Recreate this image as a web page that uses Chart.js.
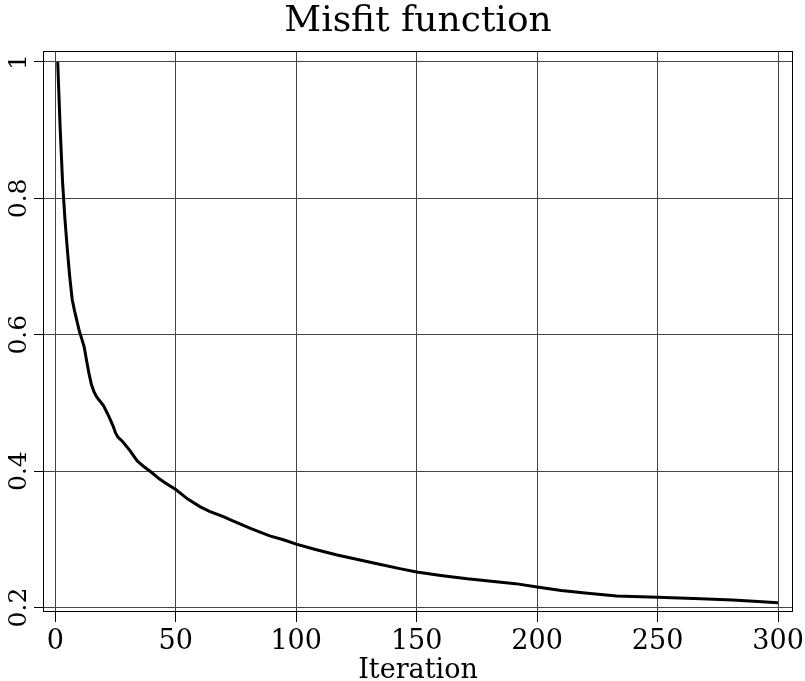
<!DOCTYPE html>
<html>
<head>
<meta charset="utf-8">
<script src="https://cdn.jsdelivr.net/npm/chart.js@4/dist/chart.umd.min.js"></script>
<style>
  html, body { margin: 0; padding: 0; background: #fff; }
  canvas { display: block; }
</style>
</head>
<body>
<canvas id="misfit" width="805" height="681"></canvas>
<script>
/* misfit per iteration */
const iterations = [1, 2, 3, 4, 5, 6, 7, 8, 9, 10, 11, 12, 13, 14, 15, 16, 17, 18, 20, 22,
  23, 24, 25, 26, 28, 31, 34, 37, 40, 43, 46, 50, 55, 60, 64, 70, 73, 81, 89, 95,
  100, 108, 117, 126, 135, 143, 150, 160, 171, 182, 191, 200, 210, 221, 233, 250, 268, 281, 290, 300];
const misfit = [1.000, 0.905, 0.825, 0.770, 0.725, 0.685, 0.652, 0.635, 0.620, 0.605, 0.594, 0.582, 0.562, 0.543, 0.527, 0.517, 0.510, 0.505, 0.496, 0.482,
  0.474, 0.466, 0.456, 0.450, 0.443, 0.430, 0.415, 0.406, 0.398, 0.389, 0.382, 0.373, 0.359, 0.348, 0.341, 0.333, 0.328, 0.316, 0.305, 0.299,
  0.293, 0.285, 0.277, 0.270, 0.263, 0.257, 0.252, 0.247, 0.242, 0.238, 0.235, 0.230, 0.225, 0.221, 0.217, 0.215, 0.213, 0.211, 0.209, 0.207];

const xTicks = [0, 50, 100, 150, 200, 250, 300];
const yTicks = [0.2, 0.4, 0.6, 0.8, 1];

const FONT = "'DejaVu Serif', 'Liberation Serif', serif";
const gridColor = "#444";

// box round the plot area
const frame = {
  id: "frame",
  afterDraw(chart){
    const a = chart.chartArea;
    const ctx = chart.ctx;
    ctx.save();
    ctx.strokeStyle = "#000";
    ctx.lineWidth = 1;
    ctx.strokeRect(Math.round(a.left) + 0.5, Math.round(a.top) + 0.5,
      Math.round(a.right - a.left) - 1, Math.round(a.bottom - a.top) - 1);
    ctx.restore();
  }
};

new Chart(document.getElementById("misfit"), {
  type: "line",
  data: {
    datasets: [{
      data: iterations.map((it, i) => ({x: it, y: misfit[i]})),
      borderColor: "#000",
      borderWidth: 3,
      pointRadius: 0,
      tension: 0,
      fill: false
    }]
  },
  options: {
    responsive: false,
    animation: false,
    layout: {padding: {left: 0, right: 12, top: 0, bottom: 0}},
    plugins: {
      legend: {display: false},
      tooltip: {enabled: false},
      title: {
        display: true,
        fullSize: false,
        text: "Misfit function",
        color: "#000",
        font: {family: FONT, size: 36, weight: "normal", lineHeight: 1},
        padding: {top: 4, bottom: 11}
      }
    },
    scales: {
      x: {
        type: "linear",
        min: -5.1,
        max: 306.2,
        afterBuildTicks: s => { s.ticks = xTicks.map(v => ({value: v})); },
        afterFit: s => { s.height = 69; s.paddingLeft = 0; s.paddingRight = 0; },
        grid: {color: gridColor, lineWidth: 1, drawTicks: true, tickLength: 10, tickColor: "#000"},
        border: {display: false},
        ticks: {
          color: "#000",
          font: {family: FONT, size: 27},
          padding: 4,
          maxRotation: 0,
          callback: v => String(v)
        },
        title: {
          display: true,
          text: "Iteration",
          color: "#000",
          font: {family: FONT, size: 27, lineHeight: 1},
          padding: {top: 0, bottom: -3}
        }
      },
      y: {
        type: "linear",
        min: 0.1934,
        max: 1.0161,
        afterBuildTicks: s => { s.ticks = yTicks.map(v => ({value: v})); },
        afterFit: s => { s.width = 43; s.paddingTop = 0; s.paddingBottom = 0; },
        grid: {color: gridColor, lineWidth: 1, drawTicks: true, tickLength: 9, tickColor: "#000"},
        border: {display: false},
        ticks: {
          color: "#000",
          font: {family: FONT, size: 25},
          padding: -5,
          minRotation: 90,
          maxRotation: 90,
          crossAlign: "center",
          callback: v => String(v)
        }
      }
    }
  },
  plugins: [frame]
});
</script>
</body>
</html>
